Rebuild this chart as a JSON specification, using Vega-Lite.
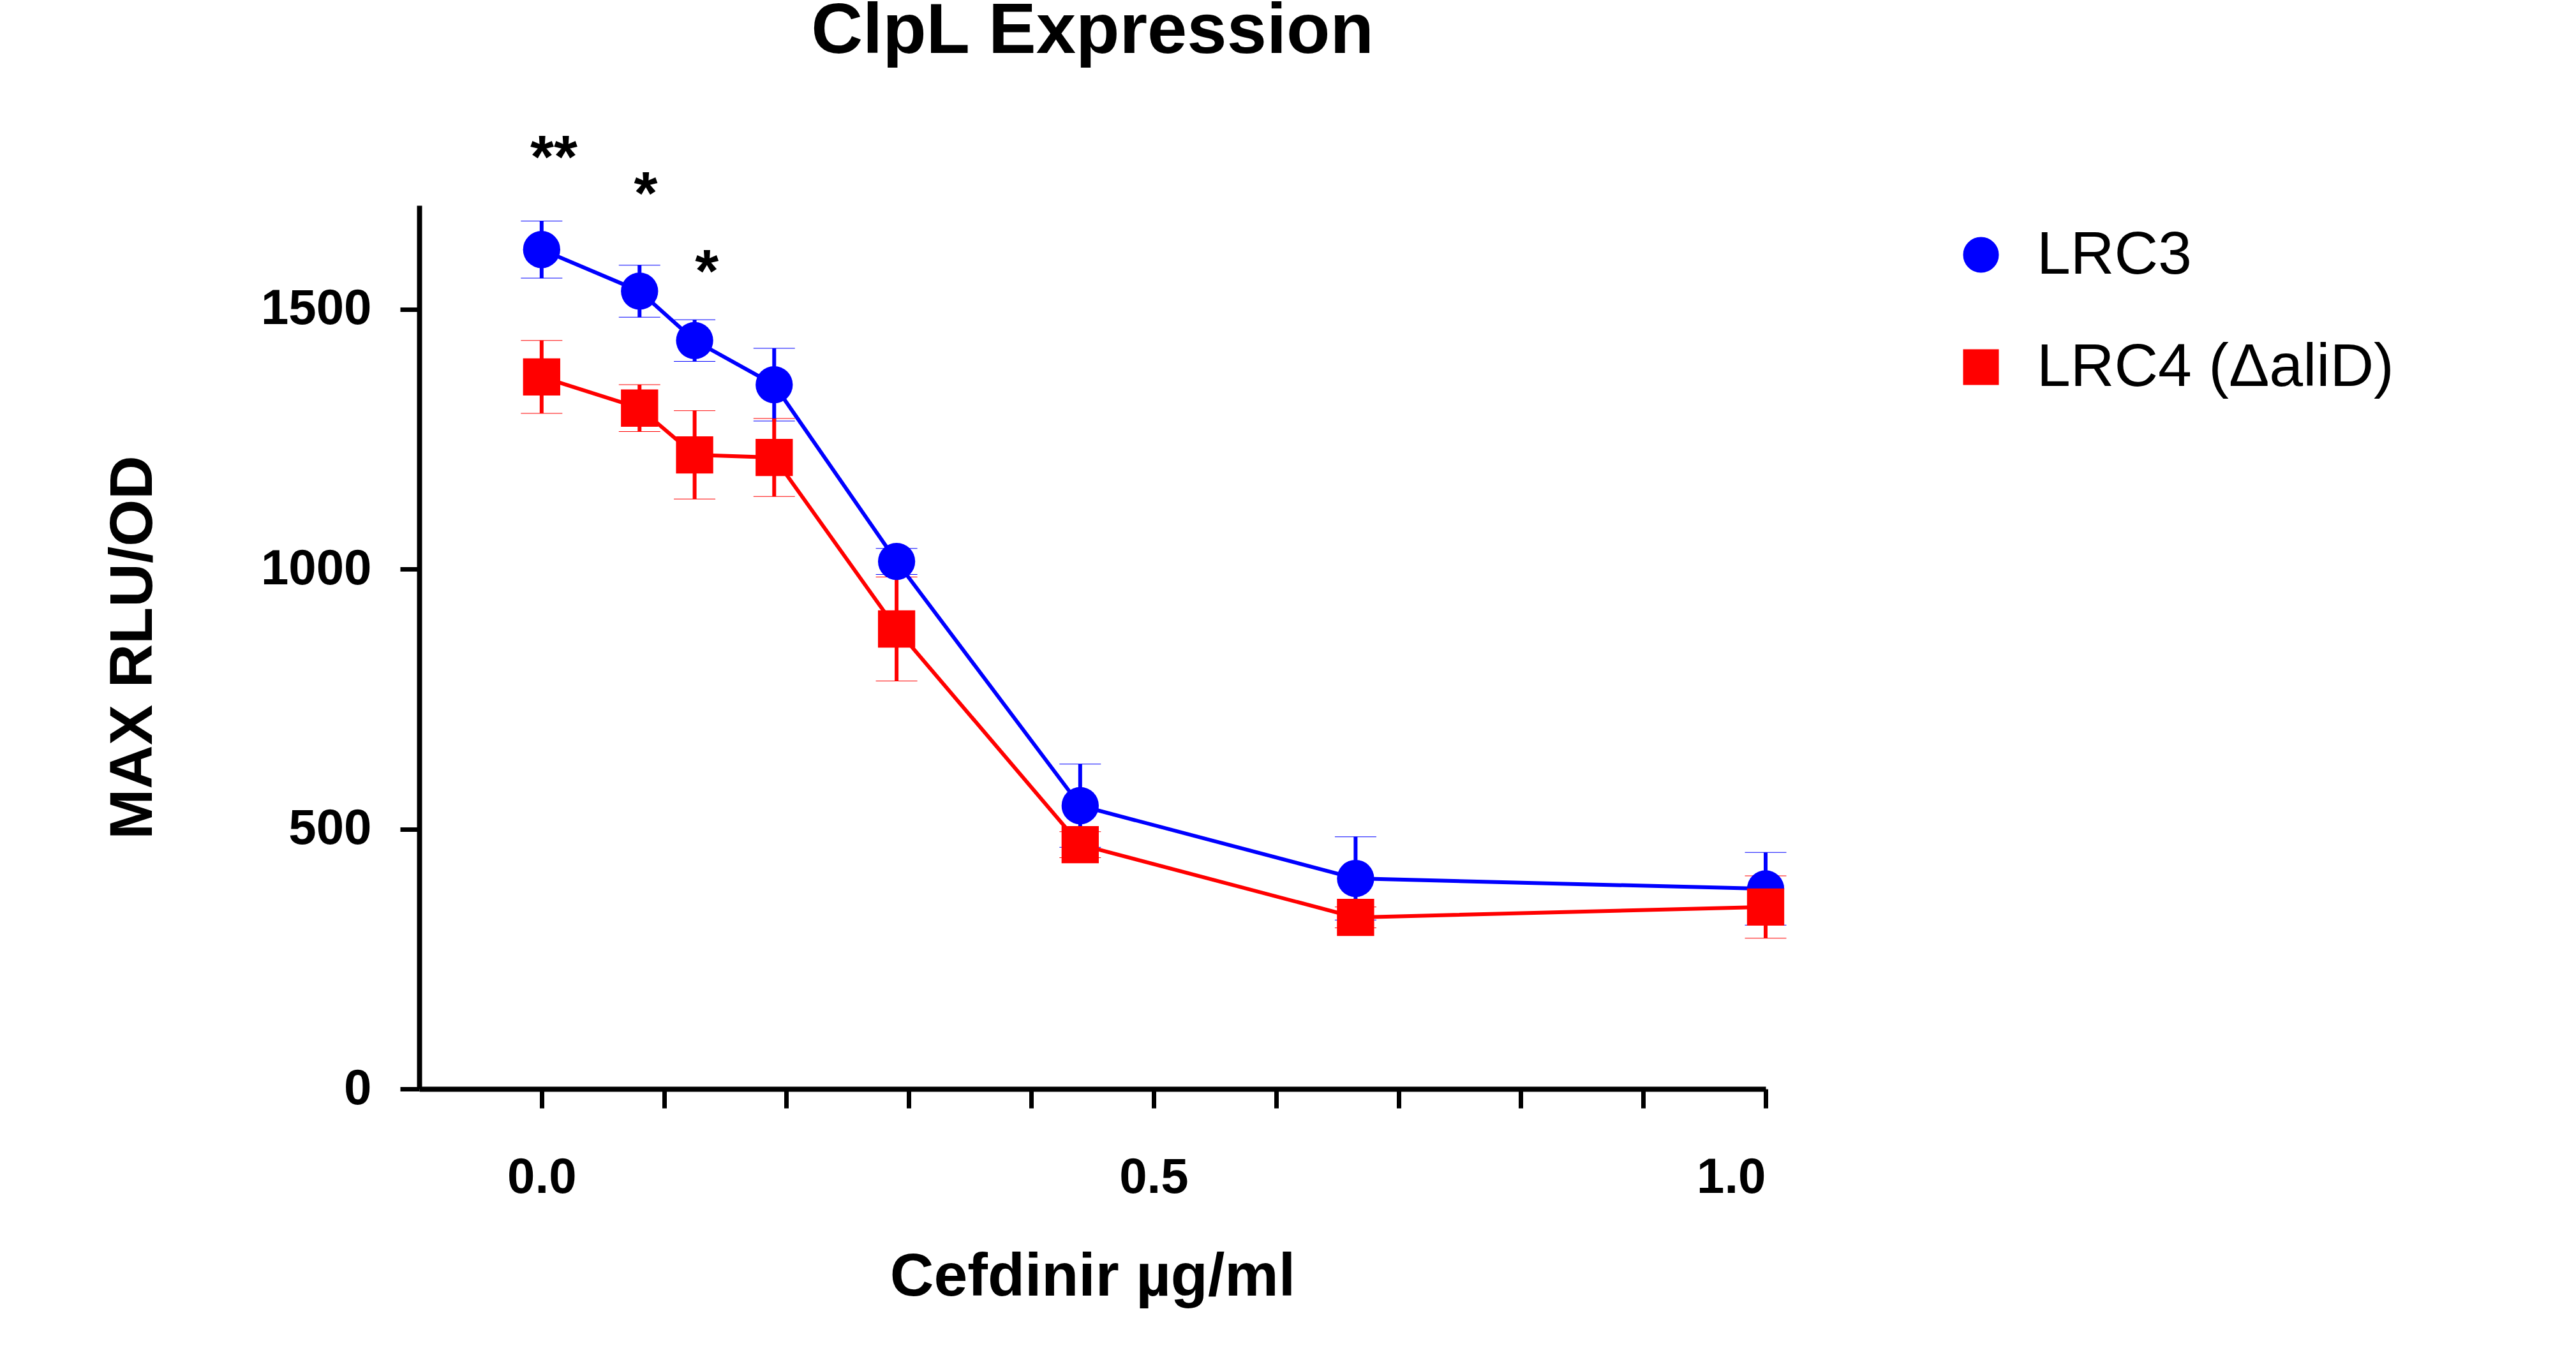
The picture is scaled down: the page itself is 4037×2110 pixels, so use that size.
{
  "$schema": "https://vega.github.io/schema/vega-lite/v6.json",
  "autosize": "none",
  "width": 2110,
  "height": 1385,
  "padding": {"left": 657, "top": 322, "right": 1270, "bottom": 403},
  "background": "white",
  "title": {"text": "ClpL Expression", "fontSize": 112, "font": "Liberation Sans", "fontWeight": "bold", "offset": 95, "anchor": "middle"},
  "datasets": {
    "pts": [
      {"c": 0.0, "v": 1615, "e": 55, "s": "LRC3"},
      {"c": 0.08, "v": 1535, "e": 50, "s": "LRC3"},
      {"c": 0.125, "v": 1440, "e": 40, "s": "LRC3"},
      {"c": 0.19, "v": 1355, "e": 70, "s": "LRC3"},
      {"c": 0.29, "v": 1015, "e": 25, "s": "LRC3"},
      {"c": 0.44, "v": 545, "e": 80, "s": "LRC3"},
      {"c": 0.665, "v": 405, "e": 80, "s": "LRC3"},
      {"c": 1.0, "v": 385, "e": 70, "s": "LRC3"},
      {"c": 0.0, "v": 1370, "e": 70, "s": "LRC4 (ΔaliD)"},
      {"c": 0.08, "v": 1310, "e": 45, "s": "LRC4 (ΔaliD)"},
      {"c": 0.125, "v": 1220, "e": 85, "s": "LRC4 (ΔaliD)"},
      {"c": 0.19, "v": 1215, "e": 75, "s": "LRC4 (ΔaliD)"},
      {"c": 0.29, "v": 885, "e": 100, "s": "LRC4 (ΔaliD)"},
      {"c": 0.44, "v": 470, "e": 25, "s": "LRC4 (ΔaliD)"},
      {"c": 0.665, "v": 330, "e": 20, "s": "LRC4 (ΔaliD)"},
      {"c": 1.0, "v": 350, "e": 60, "s": "LRC4 (ΔaliD)"}
    ],
    "stars": [
      {"c": 0.01, "v": 1790, "t": "**"},
      {"c": 0.085, "v": 1720, "t": "*"},
      {"c": 0.135, "v": 1570, "t": "*"}
    ]
  },
  "layer": [
    {
      "data": {"name": "pts"},
      "mark": {"type": "errorbar", "ticks": {"size": 65, "strokeWidth": 6, "opacity": 1}, "rule": {"strokeWidth": 6, "opacity": 1}},
      "encoding": {
        "x": {"field": "c", "type": "quantitative"},
        "y": {"field": "v", "type": "quantitative", "title": "MAX RLU/OD"},
        "yError": {"field": "e"},
        "color": {"field": "s", "type": "nominal", "title": null, "scale": {"domain": ["LRC3", "LRC4 (ΔaliD)"], "range": ["#0000ff", "#ff0000"]}}
      }
    },
    {
      "data": {"name": "pts"},
      "mark": {"type": "line", "strokeWidth": 6, "point": {"filled": true, "size": 3400, "opacity": 1}},
      "encoding": {
        "x": {
          "field": "c", "type": "quantitative",
          "scale": {"domain": [-0.1, 1.0], "nice": false, "zero": false},
          "axis": {"values": [0, 0.1, 0.2, 0.3, 0.4, 0.5, 0.6, 0.7, 0.8, 0.9, 1.0],
                   "labelExpr": "datum.value == 0 || datum.value == 0.5 || datum.value == 1 ? format(datum.value, '.1f') : ''",
                   "title": "Cefdinir µg/ml", "titlePadding": 70, "labelPadding": 70}
        },
        "y": {
          "field": "v", "type": "quantitative",
          "scale": {"domain": [0, 1700], "nice": false},
          "axis": {"values": [0, 500, 1000, 1500], "format": "d", "title": "MAX RLU/OD", "titlePadding": 200, "labelPadding": 45}
        },
        "color": {"field": "s", "type": "nominal", "title": null,
                  "scale": {"domain": ["LRC3", "LRC4 (ΔaliD)"], "range": ["#0000ff", "#ff0000"]}},
        "shape": {"field": "s", "type": "nominal", "title": null,
                  "scale": {"domain": ["LRC3", "LRC4 (ΔaliD)"], "range": ["circle", "square"]}}
      }
    },
    {
      "data": {"name": "stars"},
      "mark": {"type": "text", "fontSize": 95, "font": "Liberation Sans", "fontWeight": "bold", "clip": false, "baseline": "middle"},
      "encoding": {
        "x": {"field": "c", "type": "quantitative"},
        "y": {"field": "v", "type": "quantitative"},
        "text": {"field": "t"}
      }
    }
  ],
  "config": {
    "view": {"stroke": null},
    "font": "Liberation Sans",
    "axis": {
      "grid": false, "domainColor": "black", "domainWidth": 8, "tickColor": "black", "tickWidth": 7, "tickSize": 30,
      "labelFont": "Liberation Sans", "labelFontSize": 78, "labelFontWeight": "bold", "labelColor": "black", "labelLimit": 1000,
      "titleFont": "Liberation Sans", "titleFontSize": 95, "titleFontWeight": "bold", "titleColor": "black"
    },
    "legend": {
      "orient": "none", "legendX": 2400, "legendY": 30,
      "labelFontSize": 95, "labelFont": "Liberation Sans", "labelColor": "black",
      "symbolSize": 2600, "symbolStrokeWidth": 5, "rowPadding": 80, "labelOffset": 40, "labelLimit": 1000
    }
  }
}
